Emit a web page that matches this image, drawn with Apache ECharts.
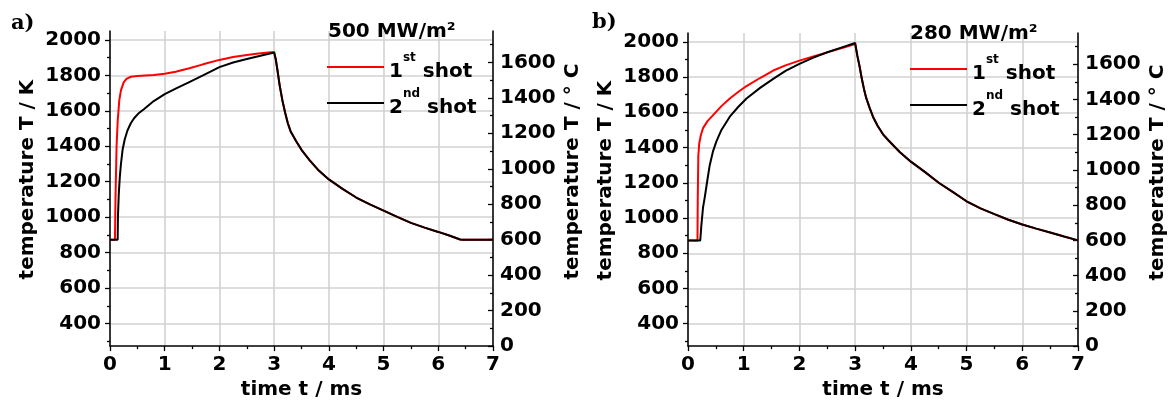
<!DOCTYPE html>
<html>
<head>
<meta charset="utf-8">
<script src="https://cdn.jsdelivr.net/npm/echarts@6/dist/echarts.min.js"></script>
<style>
html,body{margin:0;padding:0;background:#fff;}
#chart{width:1171px;height:405px;}
</style>
</head>
<body>
<div id="chart"></div>
<script>
// ---------- data (time in ms, temperature in K) ----------
// Panel a) 500 MW/m2
var timeA1 = [0, 0.09, 0.1, 0.12, 0.14, 0.17, 0.2, 0.25, 0.3, 0.38, 0.5, 0.65, 0.8, 1.0, 1.2, 1.45, 1.7, 2.0, 2.25, 2.5, 2.75, 3.0];
var tempA1 = [873, 873, 1100, 1400, 1540, 1660, 1715, 1760, 1780, 1792, 1796, 1799, 1802, 1809, 1820, 1840, 1862, 1887, 1903, 1915, 1924, 1932];
var timeA2 = [0, 0.14, 0.145, 0.16, 0.18, 0.2, 0.23, 0.27, 0.32, 0.38, 0.44, 0.53, 0.63, 0.8, 1.0, 1.2, 1.43, 1.7, 2.0, 2.25, 2.5, 2.75, 3.0];
var tempA2 = [873, 873, 1000, 1130, 1230, 1300, 1380, 1440, 1490, 1530, 1558, 1588, 1612, 1655, 1694, 1725, 1759, 1800, 1846, 1872, 1892, 1910, 1928];
var timeAcool = [3.0, 3.03, 3.06, 3.1, 3.15, 3.2, 3.25, 3.3, 3.4, 3.5, 3.65, 3.8, 4.0, 4.25, 4.5, 4.75, 5.0, 5.25, 5.5, 5.75, 6.0, 6.2, 6.4, 6.45, 7.0];
var tempAcool = [1930, 1890, 1830, 1745, 1660, 1590, 1530, 1485, 1430, 1380, 1320, 1268, 1213, 1160, 1111, 1072, 1037, 1002, 968, 941, 917, 897, 874, 873, 873];

// Panel b) 280 MW/m2
var timeB1 = [0, 0.17, 0.175, 0.185, 0.2, 0.23, 0.27, 0.35, 0.45, 0.6, 0.75, 0.9, 1.05, 1.3, 1.53, 1.75, 2.0, 2.25, 2.5, 2.75, 3.0];
var tempB1 = [873, 873, 1100, 1350, 1420, 1470, 1510, 1550, 1584, 1635, 1678, 1715, 1749, 1796, 1837, 1866, 1893, 1917, 1940, 1963, 1988];
var timeB2 = [0, 0.22, 0.24, 0.27, 0.3, 0.35, 0.39, 0.45, 0.51, 0.6, 0.75, 0.9, 1.05, 1.3, 1.53, 1.75, 2.0, 2.25, 2.5, 2.75, 3.0];
var tempB2 = [873, 873, 960, 1060, 1116, 1220, 1300, 1380, 1435, 1500, 1575, 1630, 1678, 1740, 1790, 1835, 1875, 1910, 1941, 1967, 1993];
var timeBcool = [3.0, 3.04, 3.08, 3.12, 3.16, 3.2, 3.26, 3.32, 3.4, 3.5, 3.6, 3.8, 4.0, 4.25, 4.5, 4.75, 5.0, 5.25, 5.5, 5.75, 6.0, 6.25, 6.5, 6.75, 7.0];
var tempBcool = [1993, 1920, 1860, 1790, 1730, 1680, 1625, 1575, 1525, 1475, 1440, 1375, 1320, 1262, 1200, 1148, 1095, 1055, 1022, 990, 963, 940, 918, 895, 873];

// ---------- axis ticks / labels ----------
var kMajor = [400, 600, 800, 1000, 1200, 1400, 1600, 1800, 2000];
var kMinor = [300, 500, 700, 900, 1100, 1300, 1500, 1700, 1900];
var cMajor = [0, 200, 400, 600, 800, 1000, 1200, 1400, 1600];
var cMinor = [100, 300, 500, 700, 900, 1100, 1300, 1500, 1700];
var kMin = 273.15, kMax = 2050;
var fluxLabels = ['500 MW/m²', '280 MW/m²'];
var panelLabels = ['a)', 'b)'];
var legendNames = {a1: '{n|1}{s|st}{n| shot}', a2: '{n|2}{s|nd}{n| shot}', b1: '{n|1}{s|st}{n| shot}', b2: '{n|2}{s|nd}{n| shot}'};

function pairs(t, v) { return t.map(function (x, i) { return [x, v[i]]; }); }
function plain(v) { return String(Math.round(v * 100) / 100); }

var FONT = 'DejaVu Sans';
var labelStyle = {fontFamily: FONT, fontWeight: 'bold', fontSize: 20, color: '#000', formatter: plain};
var nameStyle = {fontFamily: FONT, fontWeight: 'bold', fontSize: 20, color: '#000'};
var gridLine = {show: true, lineStyle: {color: '#d2d2d2', width: 1.6}};
var axisLine = {show: true, lineStyle: {color: '#000', width: 1.5}};

var grids = [
  {left: 110, right: 678, top: 31, bottom: 55},
  {left: 688, right: 93, top: 33, bottom: 54.5}
];

var xAxes = [], yAxes = [];
[0, 1].forEach(function (g) {
  xAxes.push({
    gridIndex: g, type: 'value', min: 0, max: 7, interval: 1,
    name: 'time t / ms', nameLocation: 'middle', nameGap: 31, nameTextStyle: nameStyle,
    axisLine: axisLine,
    axisTick: {show: true, length: 5, lineStyle: {color: '#000', width: 1.3}},
    minorTick: {show: true, splitNumber: 2, length: 3, lineStyle: {color: '#000', width: 1.3}},
    axisLabel: Object.assign({margin: 9}, labelStyle),
    splitLine: gridLine
  });
  // Kelvin main axis (left)
  yAxes.push({
    gridIndex: g, type: 'value', position: 'left', min: kMin, max: kMax,
    name: 'temperature T / K', nameLocation: 'middle', nameRotate: 90, nameGap: 72,
    nameTextStyle: Object.assign({padding: [0, 0, 0, 18]}, nameStyle),
    axisLine: axisLine,
    axisTick: {show: true, length: 5, customValues: kMajor, lineStyle: {color: '#000', width: 1.3}},
    axisLabel: Object.assign({margin: 9, customValues: kMajor}, labelStyle),
    splitLine: gridLine
  });
  // Kelvin minor ticks
  yAxes.push({
    gridIndex: g, type: 'value', position: 'left', min: kMin, max: kMax,
    axisLine: {show: false},
    axisTick: {show: true, length: 3, customValues: kMinor, lineStyle: {color: '#000', width: 1.3}},
    axisLabel: {show: false}, splitLine: {show: false}
  });
  // Celsius axis (right)
  yAxes.push({
    gridIndex: g, type: 'value', position: 'right', min: kMin - 273.15, max: kMax - 273.15,
    name: 'temperature T / ° C', nameLocation: 'middle', nameRotate: 90, nameGap: 70,
    nameTextStyle: Object.assign({padding: [0, 0, 0, 34]}, nameStyle),
    axisLine: axisLine,
    axisTick: {show: true, inside: true, length: 5, customValues: cMajor, lineStyle: {color: '#000', width: 1.3}},
    axisLabel: Object.assign({margin: 7, customValues: cMajor}, labelStyle),
    splitLine: {show: false}
  });
  yAxes.push({
    gridIndex: g, type: 'value', position: 'right', min: kMin - 273.15, max: kMax - 273.15,
    axisLine: {show: false},
    axisTick: {show: true, inside: true, length: 3, customValues: cMinor, lineStyle: {color: '#000', width: 1.3}},
    axisLabel: {show: false}, splitLine: {show: false}
  });
});

function lineSeries(name, g, data, color) {
  return {
    name: name, type: 'line', xAxisIndex: g, yAxisIndex: g * 4,
    data: data, showSymbol: false, symbol: 'none', smooth: false,
    lineStyle: {color: color, width: 2}, itemStyle: {color: color}
  };
}

var series = [
  lineSeries('a1', 0, pairs(timeA1, tempA1).concat(pairs(timeAcool, tempAcool)), '#ff0000'),
  lineSeries('a2', 0, pairs(timeA2, tempA2).concat(pairs(timeAcool, tempAcool)), '#000000'),
  lineSeries('b1', 1, pairs(timeB1, tempB1).concat(pairs(timeBcool, tempBcool)), '#ff0000'),
  lineSeries('b2', 1, pairs(timeB2, tempB2).concat(pairs(timeBcool, tempBcool)), '#000000')
];

var rich = {
  n: {fontFamily: FONT, fontWeight: 'bold', fontSize: 20, color: '#000', lineHeight: 30, verticalAlign: 'bottom'},
  s: {fontFamily: FONT, fontWeight: 'bold', fontSize: 12, color: '#000', lineHeight: 15, verticalAlign: 'top'}
};
function legend(left, top, names) {
  return {
    data: names, left: left, top: top, orient: 'vertical', padding: 0,
    icon: 'rect', itemWidth: 57, itemHeight: 2, itemGap: 6, selectedMode: false,
    formatter: function (n) { return legendNames[n]; },
    textStyle: {rich: rich}
  };
}

var option = {
  animation: false,
  backgroundColor: '#fff',
  title: [
    {text: panelLabels[0], left: 11, top: 13, padding: 0, textStyle: {fontFamily: 'DejaVu Serif', fontWeight: 'bold', fontSize: 21, color: '#000'}},
    {text: panelLabels[1], left: 592, top: 12, padding: 0, textStyle: {fontFamily: 'DejaVu Serif', fontWeight: 'bold', fontSize: 21, color: '#000'}},
    {text: fluxLabels[0], left: 328, top: 22, padding: 0, textStyle: {fontFamily: FONT, fontWeight: 'bold', fontSize: 20, color: '#000'}},
    {text: fluxLabels[1], left: 910, top: 24, padding: 0, textStyle: {fontFamily: FONT, fontWeight: 'bold', fontSize: 20, color: '#000'}}
  ],
  legend: [legend(327, 52, ['a1', 'a2']), legend(910, 54, ['b1', 'b2'])],
  grid: grids,
  xAxis: xAxes,
  yAxis: yAxes,
  series: series
};

var chart = echarts.init(document.getElementById('chart'), null, {renderer: 'canvas'});
chart.setOption(option);
</script>
</body>
</html>
